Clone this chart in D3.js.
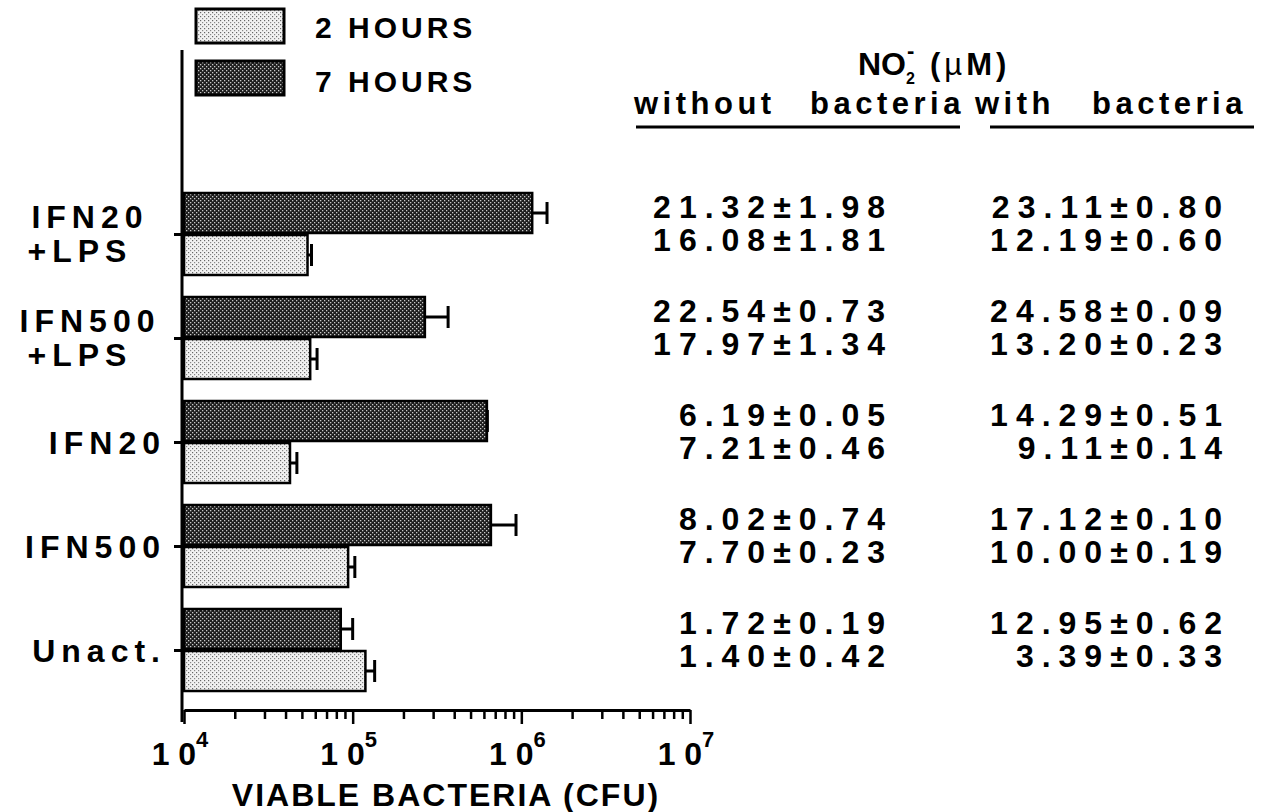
<!DOCTYPE html>
<html>
<head>
<meta charset="utf-8">
<script src="https://cdn.jsdelivr.net/npm/d3@7"></script>
<style>
  body { margin: 0; background: #fff; }
  svg { display: block; font-family: "Liberation Sans", Arial, sans-serif; font-weight: bold; }
</style>
</head>
<body>
<div id="chart"></div>
<script>
// Treatments, top to bottom
const categories = ["IFN20+LPS", "IFN500+LPS", "IFN20", "IFN500", "Unact."];
const labelLines = [["IFN20", "+LPS"], ["IFN500", "+LPS"], ["IFN20"], ["IFN500"], ["Unact."]];

// Viable bacteria (CFU), mean and error
const cfu7h = [1.16e6, 2.68e5, 6.25e5, 6.6e5, 8.5e4];
const err7h = [2.6e5, 1.0e5, 4e3, 2.7e5, 1.5e4];
const cfu2h = [5.4e4, 5.6e4, 4.25e4, 9.4e4, 1.19e5];
const err2h = [3e3, 5.5e3, 4.2e3, 9e3, 1.6e4];

// NO2- (uM) table, top line = 7 hours, bottom line = 2 hours
const noWithout7h = [21.32, 22.54, 6.19, 8.02, 1.72];
const noWithout7hSd = [1.98, 0.73, 0.05, 0.74, 0.19];
const noWithout2h = [16.08, 17.97, 7.21, 7.70, 1.40];
const noWithout2hSd = [1.81, 1.34, 0.46, 0.23, 0.42];
const noWith7h = [23.11, 24.58, 14.29, 17.12, 12.95];
const noWith7hSd = [0.80, 0.09, 0.51, 0.10, 0.62];
const noWith2h = [12.19, 13.20, 9.11, 10.00, 3.39];
const noWith2hSd = [0.60, 0.23, 0.14, 0.19, 0.33];

const xTicks = [1e4, 1e5, 1e6, 1e7];
const legendLabels = ["2 HOURS", "7 HOURS"];

const W = 1262, H = 812;
const svg = d3.select("#chart").append("svg")
    .attr("width", W)
    .attr("height", H);

// halftone-ish fills
const defs = svg.append("defs");
const dark = defs.append("pattern").attr("id", "dark")
    .attr("width", 4).attr("height", 4).attr("patternUnits", "userSpaceOnUse");
dark.append("rect").attr("width", 4).attr("height", 4).attr("fill", "#1e1e1e");
dark.append("rect").attr("x", 0).attr("y", 0).attr("width", 1.3).attr("height", 1.3).attr("fill", "#c8c8c8");
dark.append("rect").attr("x", 2).attr("y", 2).attr("width", 1.3).attr("height", 1.3).attr("fill", "#c8c8c8");
const light = defs.append("pattern").attr("id", "light")
    .attr("width", 4).attr("height", 4).attr("patternUnits", "userSpaceOnUse");
light.append("rect").attr("width", 4).attr("height", 4).attr("fill", "#f2f2f2");
light.append("rect").attr("x", 0).attr("y", 0).attr("width", 1.2).attr("height", 1.2).attr("fill", "#666");
light.append("rect").attr("x", 2).attr("y", 2).attr("width", 1.2).attr("height", 1.2).attr("fill", "#888");

const x = d3.scaleLog().domain([1e4, 1e7]).range([184, 690]);
const y = d3.scalePoint().domain(categories).range([234, 650]);
const barH = 40;

// legend
const legend = svg.append("g");
legendLabels.forEach((lab, i) => {
    legend.append("rect")
        .attr("x", 196).attr("y", 9 + i * 52)
        .attr("width", 88).attr("height", 34)
        .attr("fill", i === 0 ? "url(#light)" : "url(#dark)")
        .attr("stroke", "#000").attr("stroke-width", 3);
    legend.append("text")
        .attr("x", 315).attr("y", 38 + i * 54)
        .attr("font-size", 30).attr("letter-spacing", 4)
        .text(lab);
});

// y axis line + category ticks
svg.append("line")
    .attr("x1", x(1e4) - 2).attr("x2", x(1e4) - 2)
    .attr("y1", 50).attr("y2", 722)
    .attr("stroke", "#000").attr("stroke-width", 3);

const yAxis = svg.append("g")
    .attr("transform", `translate(${x(1e4) - 2},0)`)
    .call(d3.axisLeft(y).tickSize(8).tickFormat(""));
yAxis.select(".domain").remove();
yAxis.selectAll(".tick line").attr("stroke-width", 3);

// category labels
categories.forEach((c, i) => {
    const lines = labelLines[i];
    if (lines.length === 2) {
        lines.forEach((ln, j) => {
            svg.append("text")
                .attr("x", j === 0 ? 90 : 80).attr("y", y(c) - 6 + j * 34)
                .attr("text-anchor", "middle")
                .attr("font-size", 32).attr("letter-spacing", 6)
                .text(ln);
        });
    } else {
        svg.append("text")
            .attr("x", 166).attr("y", y(c) + 12)
            .attr("text-anchor", "end")
            .attr("font-size", 32).attr("letter-spacing", 6)
            .text(lines[0]);
    }
});

// bars
const bars = [
    { vals: cfu7h, errs: err7h, fill: "url(#dark)", off: -barH - 1 },
    { vals: cfu2h, errs: err2h, fill: "url(#light)", off: 1 }
];
bars.forEach(s => {
    const g = svg.append("g");
    g.selectAll("rect")
        .data(categories)
        .enter()
        .append("rect")
        .attr("x", x(1e4))
        .attr("y", d => y(d) + s.off)
        .attr("width", (d, i) => x(s.vals[i]) - x(1e4))
        .attr("height", barH)
        .attr("fill", s.fill)
        .attr("stroke", "#000")
        .attr("stroke-width", 2.5);
    g.selectAll(".eb")
        .data(categories)
        .enter()
        .append("line")
        .attr("x1", (d, i) => x(s.vals[i]))
        .attr("x2", (d, i) => x(s.vals[i] + s.errs[i]))
        .attr("y1", d => y(d) + s.off + barH / 2)
        .attr("y2", d => y(d) + s.off + barH / 2)
        .attr("stroke", "#000").attr("stroke-width", 3);
    g.selectAll(".cap")
        .data(categories)
        .enter()
        .append("line")
        .attr("x1", (d, i) => x(s.vals[i] + s.errs[i]))
        .attr("x2", (d, i) => x(s.vals[i] + s.errs[i]))
        .attr("y1", d => y(d) + s.off + barH / 2 - 11)
        .attr("y2", d => y(d) + s.off + barH / 2 + 11)
        .attr("stroke", "#000").attr("stroke-width", 3);
});

// x axis, log with minor ticks
const allTicks = [];
for (let e = 4; e < 7; e++) for (let m = 1; m < 10; m++) allTicks.push(m * Math.pow(10, e));
allTicks.push(1e7);
const xAxis = svg.append("g")
    .attr("transform", "translate(0,710)")
    .call(d3.axisBottom(x).tickValues(allTicks).tickSize(9).tickSizeOuter(0).tickFormat(""));
xAxis.select(".domain").attr("stroke-width", 3);
xAxis.selectAll(".tick line")
    .attr("stroke-width", 2.5)
    .attr("y2", d => xTicks.includes(d) ? 14 : 9);

xTicks.forEach(t => {
    const e = Math.round(Math.log10(t));
    const lab = svg.append("text")
        .attr("x", x(t) - 4).attr("y", 765)
        .attr("text-anchor", "middle")
        .attr("font-size", 32);
    lab.append("tspan").text("1 0");
    lab.append("tspan").attr("dy", -18).attr("font-size", 22).text(e);
});

svg.append("text")
    .attr("x", 446).attr("y", 806)
    .attr("text-anchor", "middle")
    .attr("font-size", 32).attr("letter-spacing", 2)
    .text("VIABLE BACTERIA (CFU)");

// table header
svg.append("text").attr("x", 858).attr("y", 75).attr("font-size", 32).text("NO");
svg.append("text").attr("x", 906).attr("y", 84).attr("font-size", 16).text("2");
svg.append("text").attr("x", 907).attr("y", 58).attr("font-size", 22).text("-");
svg.append("text").attr("x", 930).attr("y", 75).attr("font-size", 31).attr("letter-spacing", 4)
    .html('(<tspan font-weight="normal">\u00b5</tspan>M)');

const heads = [["without", 634], ["bacteria", 810], ["with", 975], ["bacteria", 1092]];
heads.forEach(h => {
    svg.append("text")
        .attr("x", h[1]).attr("y", 114)
        .attr("font-size", 31).attr("letter-spacing", 4.5)
        .text(h[0]);
});
svg.append("line").attr("x1", 636).attr("x2", 960).attr("y1", 127).attr("y2", 127)
    .attr("stroke", "#000").attr("stroke-width", 3);
svg.append("line").attr("x1", 990).attr("x2", 1254).attr("y1", 127).attr("y2", 127)
    .attr("stroke", "#000").attr("stroke-width", 3);

// table values
const fmt = (m, s) => m.toFixed(2) + "\u00b1" + s.toFixed(2);
const cols = [
    { xr: 885, top: [noWithout7h, noWithout7hSd], bot: [noWithout2h, noWithout2hSd] },
    { xr: 1222, top: [noWith7h, noWith7hSd], bot: [noWith2h, noWith2hSd] }
];
cols.forEach(col => {
    categories.forEach((c, i) => {
        svg.append("text")
            .attr("x", col.xr + 8).attr("y", y(c) - 16)
            .attr("text-anchor", "end")
            .attr("font-size", 32).attr("letter-spacing", 8)
            .text(fmt(col.top[0][i], col.top[1][i]));
        svg.append("text")
            .attr("x", col.xr + 8).attr("y", y(c) + 17)
            .attr("text-anchor", "end")
            .attr("font-size", 32).attr("letter-spacing", 8)
            .text(fmt(col.bot[0][i], col.bot[1][i]));
    });
});
</script>
</body>
</html>
